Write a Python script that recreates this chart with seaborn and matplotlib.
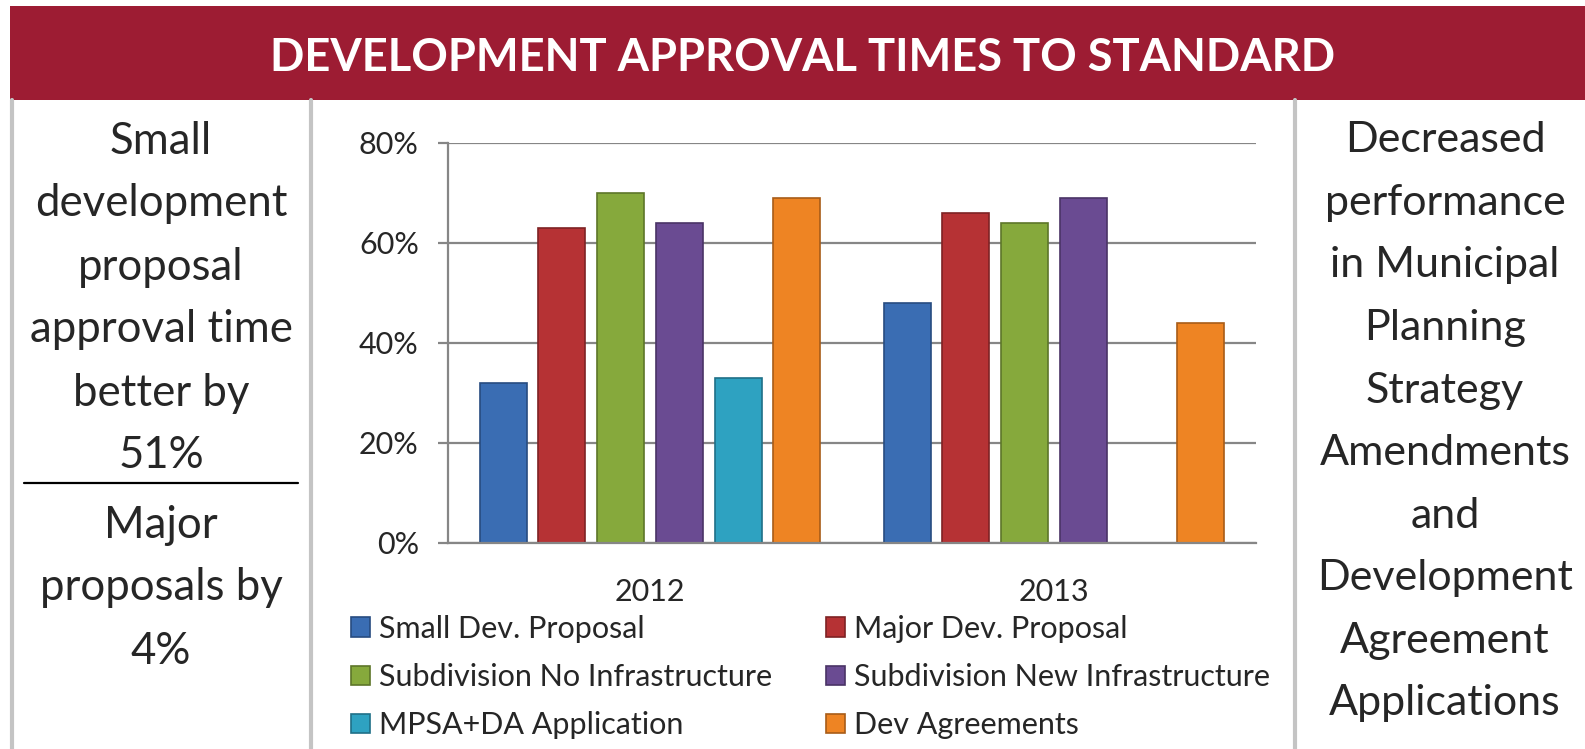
import matplotlib
matplotlib.use("Agg")
import matplotlib.pyplot as plt
import seaborn as sns
import pandas as pd
import numpy as np
from matplotlib.lines import Line2D
from matplotlib.patches import Rectangle, Patch
from matplotlib.ticker import PercentFormatter

# data
years = ["2012", "2013"]
categories = [
    "Small Dev. Proposal",
    "Major Dev. Proposal",
    "Subdivision No Infrastructure",
    "Subdivision New Infrastructure",
    "MPSA+DA Application",
    "Dev Agreements",
]
values_2012 = [0.32, 0.63, 0.70, 0.64, 0.33, 0.69]
values_2013 = [0.48, 0.66, 0.64, 0.69, np.nan, 0.44]
colors = ["#3A6DB3", "#B63234", "#86A93C", "#6A4B92", "#2EA2C1", "#EE8423"]
edge_colors = ["#274C80", "#7E2224", "#5D7629", "#4A3466", "#1F7088", "#A85C18"]

left_text = ["Small", "development", "proposal", "approval time", "better by", "51%"]
left_text2 = ["Major", "proposals by", "4%"]
right_text = ["Decreased", "performance", "in Municipal", "Planning", "Strategy",
              "Amendments", "and", "Development", "Agreement", "Applications"]
title = "DEVELOPMENT APPROVAL TIMES TO STANDARD"

W, H = 1585, 749
font = "Lato"


def fx(x):
    return x / W


def fy(y):
    return 1 - y / H


df = pd.DataFrame({
    "year": years * len(categories),
    "category": [c for c in categories for _ in years],
    "value": [v for pair in zip(values_2012, values_2013) for v in pair],
})

sns.set_style("white")
plt.rcParams["font.family"] = [font, "DejaVu Sans"]

fig = plt.figure(figsize=(W / 100, H / 100), dpi=100)
fig.patch.set_facecolor("white")

# banner
fig.patches.append(Rectangle((fx(10), fy(100)), fx(1585) - fx(10), fy(6) - fy(100),
                             transform=fig.transFigure, facecolor="#9D1C33",
                             edgecolor="none", zorder=0))
fig.text(fx(803), fy(58), title, color="white", fontsize=32.6, fontweight="bold",
         ha="center", va="center")

# panel borders
for x in [12, 311, 1295]:
    fig.add_artist(Line2D([fx(x), fx(x)], [fy(100), fy(749)], color="#C4C4C4",
                          linewidth=3, transform=fig.transFigure))
fig.add_artist(Line2D([fx(24), fx(298)], [fy(483), fy(483)], color="black",
                      linewidth=1.6, transform=fig.transFigure))

# side texts
line_h = 63
for i, t in enumerate(left_text):
    fig.text(fx(161), fy(137 + i * line_h), t, fontsize=31.5, ha="center",
             va="center_baseline")
for i, t in enumerate(left_text2):
    fig.text(fx(161), fy(521 + i * line_h), t, fontsize=31.5, ha="center",
             va="center_baseline")
for i, t in enumerate(right_text):
    fig.text(fx(1445), fy(137 + i * 62.5), t, fontsize=31, ha="center",
             va="center_baseline")

# chart
ax = fig.add_axes([fx(448), fy(543), fx(1256) - fx(448), fy(143) - fy(543)])
sns.barplot(data=df, x="year", y="value", hue="category", hue_order=categories,
            palette=colors, saturation=1, width=0.872, gap=0.2, errorbar=None,
            ax=ax)

for cont, ec in zip(ax.containers, edge_colors):
    for bar in cont:
        bar.set_edgecolor(ec)
        bar.set_linewidth(1.2)

ax.set_ylim(0, 0.8)
ax.set_yticks([0, 0.2, 0.4, 0.6, 0.8])
ax.yaxis.set_major_formatter(PercentFormatter(1.0, decimals=0))
ax.set_xlim(-0.5, 1.5)
ax.grid(axis="y", color="#868686", linewidth=1.6)
ax.set_axisbelow(True)
for s in ["top", "right"]:
    ax.spines[s].set_visible(False)
for s in ["left", "bottom"]:
    ax.spines[s].set_color("#868686")
    ax.spines[s].set_linewidth(1.6)
ax.tick_params(axis="y", length=7, width=1.6, color="#868686", pad=14,
               labelsize=22, left=True)
ax.tick_params(axis="x", length=0, pad=25, labelsize=22)
ax.set_xlabel("")
ax.set_ylabel("")
ax.get_legend().remove()

# legend, two columns placed separately
handles = [Patch(facecolor=c, edgecolor=e, linewidth=1.2) for c, e in zip(colors, edge_colors)]
leg_kw = dict(frameon=False, fontsize=22, handlelength=0.62, handleheight=0.62,
              handletextpad=0.3, labelspacing=0.66, borderpad=0, borderaxespad=0,
              loc="upper left", bbox_transform=fig.transFigure)
col1 = [0, 2, 4]
col2 = [1, 3, 5]
leg1 = ax.legend([handles[i] for i in col1], [categories[i] for i in col1],
                 bbox_to_anchor=(fx(351), fy(615)), **leg_kw)
ax.add_artist(leg1)
ax.legend([handles[i] for i in col2], [categories[i] for i in col2],
          bbox_to_anchor=(fx(826), fy(615)), **leg_kw)

fig.savefig("out.png", dpi=100, facecolor="white")
